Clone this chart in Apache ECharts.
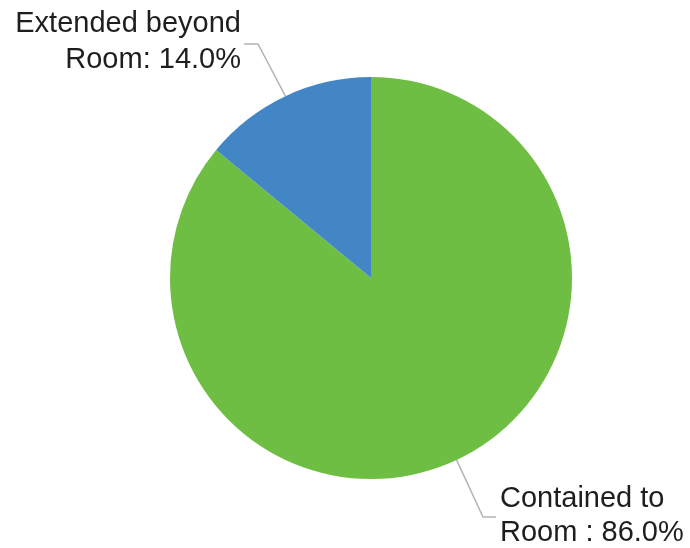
<!DOCTYPE html>
<html>
<head>
<meta charset="utf-8">
<script src="https://cdn.jsdelivr.net/npm/echarts@6/dist/echarts.min.js"></script>
<style>html,body{margin:0;padding:0;background:#fff}#c{width:690px;height:548px}</style>
</head>
<body>
<div id="c"></div>
<script>
const categories = ["Contained to\nRoom :", "Extended beyond\nRoom:"];
const values = [86.0, 14.0];
const colors = ["#6fbe44", "#4286c6"];
const lineHeights = [34, 36];

const chart = echarts.init(document.getElementById('c'), null, {renderer: 'canvas'});
chart.setOption({
  backgroundColor: '#ffffff',
  animation: false,
  series: [{
    type: 'pie',
    center: [371, 278],
    radius: [0, 201],
    startAngle: 90,
    clockwise: true,
    data: categories.map((c, i) => ({
      name: c, value: values[i],
      itemStyle: {color: colors[i]},
      label: {lineHeight: lineHeights[i]}
    })),
    itemStyle: {borderWidth: 0},
    label: {
      show: true,
      position: 'outside',
      formatter: p => p.name + ' ' + p.value.toFixed(1) + '%',
      fontFamily: 'Liberation Sans, Arial, sans-serif',
      fontSize: 29,
      color: '#1e1e1e',
      overflow: 'none'
    },
    labelLine: {show: true, lineStyle: {color: '#b4b4b4', width: 1.5}},
    labelLayout: function (params) {
      const s = params.labelLinePoints ? params.labelLinePoints[0] : [0, 0];
      if (params.dataIndex === 1) {
        return {
          x: 241, y: 42, align: 'right', verticalAlign: 'middle',
          labelLinePoints: [s, [258, 44], [244, 44]]
        };
      }
      return {
        x: 500, y: 516, align: 'left', verticalAlign: 'middle', width: 200,
        labelLinePoints: [s, [483, 517], [496, 517]]
      };
    }
  }]
});
</script>
</body>
</html>
